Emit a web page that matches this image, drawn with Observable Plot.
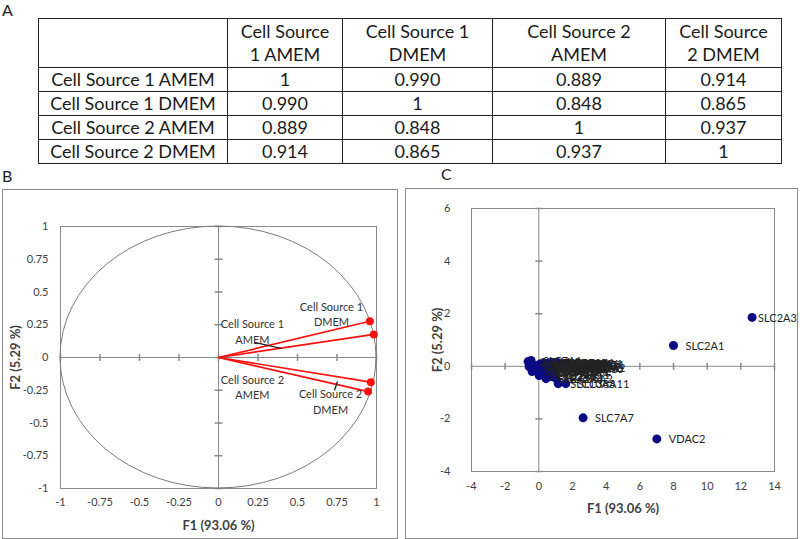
<!DOCTYPE html>
<html><head><meta charset="utf-8">
<script src="https://cdn.jsdelivr.net/npm/d3@7"></script>
<script src="https://cdn.jsdelivr.net/npm/@observablehq/plot@0.6"></script>
<style>
html,body{margin:0;padding:0;background:#fff;}
#page{position:relative;width:800px;height:539px;overflow:hidden;font-family:Lato,"Open Sans",sans-serif;color:#1a1a1a;}
.letter{position:absolute;font-size:16px;line-height:1;color:#222;}
#tbl{position:absolute;left:38px;top:18px;border-collapse:collapse;table-layout:fixed;font-size:18px;color:#1a1a1a;}
#tbl td{border:1px solid #222;text-align:center;vertical-align:middle;padding:0;line-height:23px;white-space:nowrap;}
#tbl tr.head td{height:48px;}
#tbl tr.body td{height:23px;}
.box{position:absolute;border:1px solid #8c8c8c;box-sizing:border-box;}
.plot{position:absolute;}
</style></head>
<body><div id="page">
<div class="letter" style="left:2px;top:2px">A</div>
<div class="letter" style="left:2px;top:168px">B</div>
<div class="letter" style="left:441px;top:166px">C</div>
<table id="tbl"></table>
<div class="box" style="left:2px;top:189px;width:396px;height:350px"></div>
<div class="box" style="left:405px;top:188px;width:393px;height:351px"></div>
<div class="plot" id="pb" style="left:2px;top:189px"></div>
<div class="plot" id="pc" style="left:405px;top:188px"></div>
</div>
<script>
// ---------- Data ----------
const sampleNames = ["Cell Source 1 AMEM", "Cell Source 1 DMEM", "Cell Source 2 AMEM", "Cell Source 2 DMEM"];
const headerLines = [["Cell Source", "1 AMEM"], ["Cell Source 1", "DMEM"], ["Cell Source 2", "AMEM"], ["Cell Source", "2 DMEM"]];
const corrRow1 = [1, 0.990, 0.889, 0.914];
const corrRow2 = [0.990, 1, 0.848, 0.865];
const corrRow3 = [0.889, 0.848, 1, 0.937];
const corrRow4 = [0.914, 0.865, 0.937, 1];
const columnWidths = [189, 115, 150, 173, 116];

// Panel B: correlation circle (variables)
const vectorF1 = [0.983, 0.958, 0.964, 0.947];
const vectorF2 = [0.176, 0.277, -0.188, -0.26];
const vectorLabels = ["Cell Source 1\nAMEM", "Cell Source 1\nDMEM", "Cell Source 2\nAMEM", "Cell Source 2\nDMEM"];
const labelF1 = [0.215, 0.715, 0.215, 0.709];
const labelF2 = [0.202, 0.336, -0.221, -0.332];
const leaderX1 = [0.228, null, null, 0.734];
const leaderY1 = [0.115, null, null, -0.252];
const leaderX2 = [0.40, null, null, 0.753];
const leaderY2 = [0.069, null, null, -0.183];
const circleTicks = [-1, -0.75, -0.5, -0.25, 0, 0.25, 0.5, 0.75, 1];

// Panel C: observations
const genes = ["SLC2A3", "SLC2A1", "VDAC2", "SLC7A7", "SLC10A3", "SLC38A11", "SLC43A3", "SLC3A2", "SLC25A3", "SLC7A5",
  "SLC16A3", "SLC1A5", "SLC38A2", "SLC1A4", "SLC7A1", "SLC25A1", "SLC16A1", "SLC29A1", "SLC20A1", "SLC39A14",
  "SLC4A7", "SLC44A1", "SLC35B1", "SLC9A1", "SLC30A1", "SLC31A1", "SLC25A5", "VDAC1", "SLC38A1", "SLC7A11",
  "SLC19A1", "SLC5A3", "SLC12A2", "SLC35A2", "SLC1A1", "SLC6A6", "SLC2A8", "SLC2A10", "SLC22A5", "SLC27A4",
  "SLC41A1", "SLC38A10", "SLC25A11", "SLC25A24", "SLC37A4", "SLC39A7", "SLC48A1", "SLC50A1", "SLC52A2", "SLC9A3R1"];
const geneF1 = [12.67, 8.0, 7.01, 2.63, 1.15, 1.6, 0.43, 0.73, 0.02, 0.0,
  -0.4, -0.28, 1.5, -0.64, -0.46, -0.58, -0.16, 0.1, 0.25, 0.35,
  0.5, 0.6, 0.7, 0.85, 0.95, 1.05, 1.2, 1.3, 1.4, 1.7,
  0.2, 0.4, 0.9, 1.0, 0.15, 0.3, 0.55, 0.65, 0.8, 1.0,
  1.1, 1.25, 0.45, 0.6, 0.75, 1.45, 1.6, 0.05, 1.75, 0.35];
const geneF2 = [1.86, 0.79, -2.76, -1.96, -0.66, -0.66, -0.47, -0.39, -0.35, -0.24,
  -0.2, -0.09, -0.05, 0.18, 0.22, -0.01, 0.03, 0.1, 0.05, 0.12,
  0.08, -0.02, 0.1, 0.04, 0.12, -0.05, 0.08, 0.0, 0.1, 0.08,
  -0.12, -0.15, -0.15, -0.45, 0.0, -0.05, 0.02, 0.13, -0.08, 0.02,
  0.14, -0.1, -0.3, 0.05, 0.15, -0.02, 0.12, 0.05, -0.05, -0.2];
const cTicksX = [-4, -2, 0, 2, 4, 6, 8, 10, 12, 14];
const cTicksY = [-4, -2, 0, 2, 4, 6];

// ---------- Table A ----------
const corrRows = [corrRow1, corrRow2, corrRow3, corrRow4];
const fmtCorr = v => v === 1 ? "1" : v.toFixed(3);
const tbl = document.getElementById("tbl");
const cg = document.createElement("colgroup");
columnWidths.forEach(w => { const c = document.createElement("col"); c.style.width = w + "px"; cg.appendChild(c); });
tbl.appendChild(cg);
const hr = document.createElement("tr"); hr.className = "head";
hr.appendChild(document.createElement("td"));
headerLines.forEach(lines => {
  const td = document.createElement("td");
  lines.forEach((l, i) => { if (i) td.appendChild(document.createElement("br")); td.appendChild(document.createTextNode(l)); });
  hr.appendChild(td);
});
tbl.appendChild(hr);
sampleNames.forEach((name, i) => {
  const tr = document.createElement("tr"); tr.className = "body";
  const th = document.createElement("td"); th.textContent = name; tr.appendChild(th);
  corrRows[i].forEach(v => { const td = document.createElement("td"); td.textContent = fmtCorr(v); tr.appendChild(td); });
  tbl.appendChild(tr);
});

// ---------- helpers ----------
const fmtTick = d => String(d);
const vTick = {draw(ctx, size) { const r = Math.sqrt(size / Math.PI); ctx.moveTo(0, -r); ctx.lineTo(0, r); }};
const hTick = {draw(ctx, size) { const r = Math.sqrt(size / Math.PI); ctx.moveTo(-r, 0); ctx.lineTo(r, 0); }};
const axisGray = "#8a8a8a";
const plotStyle = {fontFamily: "Lato, 'Open Sans', sans-serif", fontSize: "11px", color: "#404040", background: "transparent", overflow: "visible"};
const titleStyle = {text: d => d, fontWeight: "bold", fontSize: 13, fill: "#404040", textAnchor: "middle", lineAnchor: "middle"};

// ---------- Panel B ----------
const vectors = vectorF1.map((x, i) => ({x, y: vectorF2[i], label: vectorLabels[i], lx: labelF1[i], ly: labelF2[i],
  x1: leaderX1[i], y1: leaderY1[i], x2: leaderX2[i], y2: leaderY2[i]}));
const leaders = vectors.filter(d => d.x1 != null);

const unitCircle = (index, scales) => {
  const {x, y} = scales;
  const g = d3.create("svg:g");
  g.append("ellipse")
    .attr("cx", x(0)).attr("cy", y(0))
    .attr("rx", x(1) - x(0)).attr("ry", y(-1) - y(0))
    .attr("fill", "none").attr("stroke", "#7a7a7a").attr("stroke-width", 1);
  return g.node();
};

const plotB = Plot.plot({
  width: 396, height: 349,
  marginLeft: 58, marginRight: 22, marginTop: 37, marginBottom: 50,
  style: plotStyle,
  x: {domain: [-1, 1], ticks: circleTicks, tickFormat: fmtTick, tickSize: 0, tickPadding: 10, label: null},
  y: {domain: [-1, 1], ticks: circleTicks, tickFormat: fmtTick, tickSize: 0, tickPadding: 12, label: null},
  marks: [
    Plot.frame({stroke: axisGray}),
    Plot.ruleX([0], {stroke: axisGray}),
    Plot.ruleY([0], {stroke: axisGray}),
    Plot.dot(circleTicks, {x: d => d, y: () => 0, symbol: vTick, r: 3.5, stroke: axisGray, fill: "none"}),
    Plot.dot(circleTicks, {x: () => 0, y: d => d, symbol: hTick, r: 4, stroke: axisGray, fill: "none"}),
    unitCircle,
    Plot.link(vectors, {x1: () => 0, y1: () => 0, x2: "x", y2: "y", stroke: "#ff1010", strokeWidth: 1.7}),
    Plot.dot(vectors, {x: "x", y: "y", r: 4, fill: "#ff1010"}),
    Plot.link(leaders, {x1: "x1", y1: "y1", x2: "x2", y2: "y2", stroke: "#111", strokeWidth: 1.2}),
    Plot.text(vectors, {x: "lx", y: "ly", text: "label", fontSize: 11, lineHeight: 1.4, fill: "#333", textAnchor: "middle"}),
    Plot.text(["F1 (93.06 %)"], {...titleStyle, frameAnchor: "bottom", dy: 37}),
    Plot.text(["F2 (5.29 %)"], {...titleStyle, frameAnchor: "left", dx: -45, rotate: -90})
  ]
});
document.getElementById("pb").appendChild(plotB);

// ---------- Panel C ----------
const obs = genes.map((g, i) => ({gene: g, f1: geneF1[i], f2: geneF2[i]}));
const plotC = Plot.plot({
  width: 393, height: 350,
  marginLeft: 66, marginRight: 24, marginTop: 20, marginBottom: 67,
  style: plotStyle,
  x: {domain: [-4, 14], ticks: cTicksX, tickFormat: fmtTick, tickSize: 0, tickPadding: 11, label: null},
  y: {domain: [-4, 6], ticks: cTicksY, tickFormat: fmtTick, tickSize: 0, tickPadding: 21, label: null},
  marks: [
    Plot.frame({stroke: axisGray}),
    Plot.ruleX([0], {stroke: axisGray}),
    Plot.ruleY([0], {stroke: axisGray}),
    Plot.dot(cTicksX, {x: d => d, y: () => 0, symbol: vTick, r: 3.5, stroke: axisGray, fill: "none"}),
    Plot.dot(cTicksY, {x: () => 0, y: d => d, symbol: hTick, r: 3.5, stroke: axisGray, fill: "none"}),
    Plot.dot(obs, {x: "f1", y: "f2", r: 4.5, fill: "#0a0a85"}),
    Plot.text(obs.filter(d => d.gene !== "SLC2A3"), {x: "f1", y: "f2", text: "gene", dx: 12, dy: 1, textAnchor: "start", fontSize: 11, fill: "#222"}),
    Plot.text(obs.filter(d => d.gene === "SLC2A3"), {x: "f1", y: "f2", text: "gene", dx: 6, dy: 1, textAnchor: "start", fontSize: 11, fill: "#222"}),
    Plot.text(["F1 (93.06 %)"], {...titleStyle, frameAnchor: "bottom", dy: 37}),
    Plot.text(["F2 (5.29 %)"], {...titleStyle, frameAnchor: "left", dx: -34, rotate: -90})
  ]
});
document.getElementById("pc").appendChild(plotC);
</script>
</body></html>
